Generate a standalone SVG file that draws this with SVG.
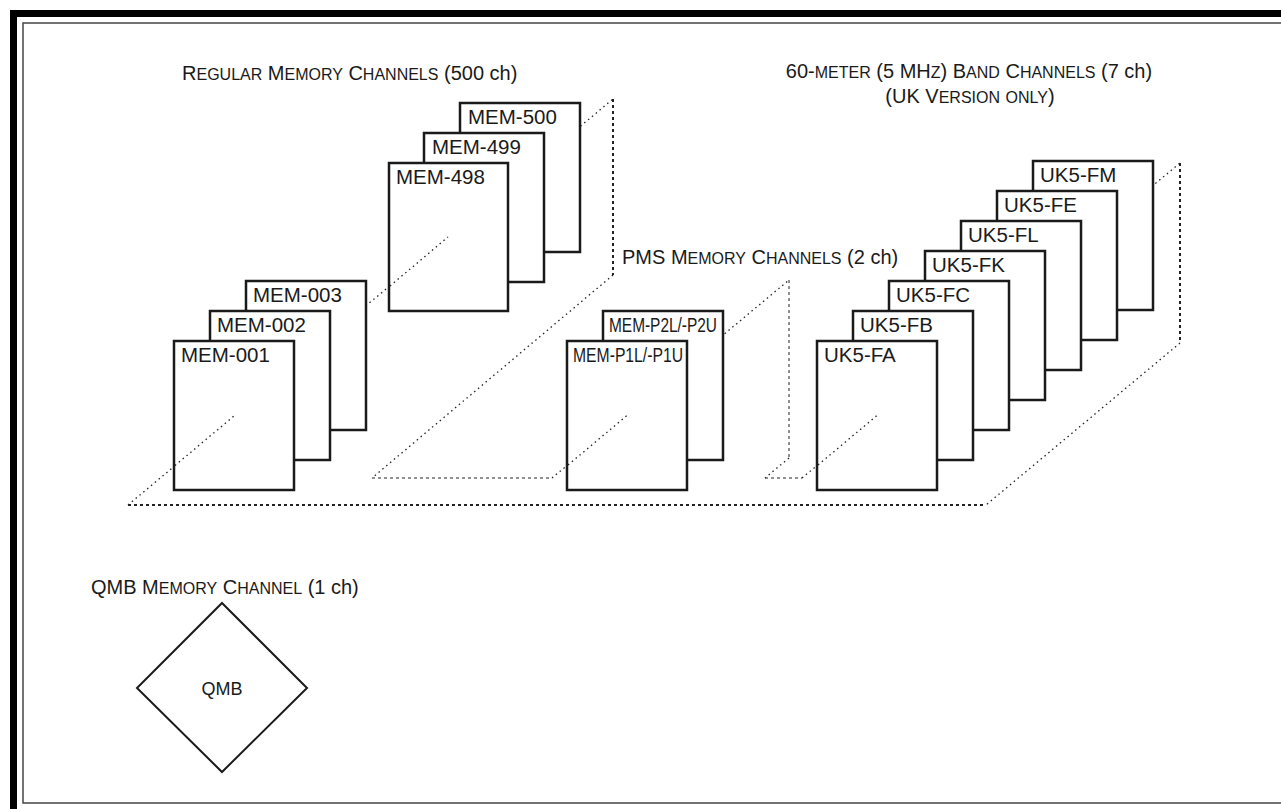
<svg xmlns="http://www.w3.org/2000/svg" width="1281" height="809" viewBox="0 0 1281 809">
<style>
  text { font-family: "Liberation Sans", Arial, sans-serif; fill: #1a1a1a; }
  .title { font-size: 20px; }
  .sc { font-size: 16px; }
  .lbl { font-size: 20.5px; }
  .card { fill: #fff; stroke: #1a1a1a; stroke-width: 2.5; }
  .dot { fill: none; stroke: #222; stroke-width: 1.3; stroke-dasharray: 1.5 3.5; }
  .thick { fill: none; stroke: #222; stroke-width: 2; stroke-dasharray: 3 3; }
  .thin { fill: none; stroke: #222; stroke-width: 1; stroke-dasharray: 3 3; }
</style>
<rect width="1281" height="809" fill="#fff"/>
<g id="frame">
  <rect x="13.5" y="13.5" width="1300" height="830" fill="none" stroke="#000" stroke-width="7"/>
  <rect x="23" y="23" width="1290" height="780" fill="none" stroke="#444" stroke-width="1.5"/>
</g>
<g id="titles">
  <text class="title" x="182" y="80">R<tspan class="sc">EGULAR</tspan> M<tspan class="sc">EMORY</tspan> C<tspan class="sc">HANNELS</tspan> (500 ch)</text>
  <text class="title" x="969" y="78" text-anchor="middle">60-<tspan class="sc">METER</tspan> (5 MH<tspan class="sc">Z</tspan>) B<tspan class="sc">AND</tspan> C<tspan class="sc">HANNELS</tspan> (7 ch)</text>
  <text class="title" x="970" y="103" text-anchor="middle">(UK V<tspan class="sc">ERSION</tspan> <tspan class="sc">ONLY</tspan>)</text>
  <text class="title" x="622" y="264">PMS M<tspan class="sc">EMORY</tspan> C<tspan class="sc">HANNELS</tspan> (2 ch)</text>
  <text class="title" x="91" y="594">QMB M<tspan class="sc">EMORY</tspan> C<tspan class="sc">HANNEL</tspan> (1 ch)</text>
</g>
<g id="connectors">
  <line class="thick" x1="128" y1="505" x2="986" y2="505"/>
  <line class="dot" x1="128" y1="505" x2="613" y2="99"/>
  <line class="thick" x1="613" y1="99" x2="613" y2="275"/>
  <line class="dot" x1="613" y1="275" x2="372" y2="478"/>
  <line class="thin" x1="372" y1="478" x2="552" y2="478"/>
  <line class="dot" x1="552" y1="478" x2="789" y2="280"/>
  <line class="thin" x1="789" y1="280" x2="789" y2="458"/>
  <line class="dot" x1="789" y1="458" x2="765" y2="478"/>
  <line class="thin" x1="765" y1="478" x2="802" y2="478"/>
  <line class="dot" x1="802" y1="478" x2="1180" y2="163"/>
  <line class="thick" x1="1180" y1="163" x2="1180" y2="343"/>
  <line class="dot" x1="1180" y1="343" x2="986" y2="505"/>
</g>
<g id="mem-500"><rect class="card" x="460" y="103" width="120" height="149"/><text class="lbl" x="468" y="124">MEM-500</text></g>
<g id="mem-499"><rect class="card" x="424" y="133" width="120" height="149"/><text class="lbl" x="432" y="154">MEM-499</text></g>
<g id="mem-498"><rect class="card" x="389" y="163" width="119" height="148"/><text class="lbl" x="396" y="184">MEM-498</text></g>
<g id="mem-003"><rect class="card" x="246" y="281" width="120" height="149"/><text class="lbl" x="253" y="302">MEM-003</text></g>
<g id="mem-002"><rect class="card" x="210" y="311" width="120" height="149"/><text class="lbl" x="217" y="332">MEM-002</text></g>
<g id="mem-001"><rect class="card" x="174" y="341" width="120" height="149"/><text class="lbl" x="181" y="362">MEM-001</text></g>
<g id="mem-p2"><rect class="card" x="603" y="311" width="120" height="149"/><text class="lbl" x="609" y="332" textLength="108" lengthAdjust="spacingAndGlyphs">MEM-P2L/-P2U</text></g>
<g id="mem-p1"><rect class="card" x="567" y="341" width="120" height="149"/><text class="lbl" x="573" y="362" textLength="110" lengthAdjust="spacingAndGlyphs">MEM-P1L/-P1U</text></g>
<g id="uk5-fm"><rect class="card" x="1033" y="161" width="120" height="149"/><text class="lbl" x="1040" y="182">UK5-FM</text></g>
<g id="uk5-fe"><rect class="card" x="997" y="191" width="120" height="149"/><text class="lbl" x="1004" y="212">UK5-FE</text></g>
<g id="uk5-fl"><rect class="card" x="961" y="221" width="120" height="149"/><text class="lbl" x="968" y="242">UK5-FL</text></g>
<g id="uk5-fk"><rect class="card" x="925" y="251" width="120" height="149"/><text class="lbl" x="932" y="272">UK5-FK</text></g>
<g id="uk5-fc"><rect class="card" x="889" y="281" width="120" height="149"/><text class="lbl" x="896" y="302">UK5-FC</text></g>
<g id="uk5-fb"><rect class="card" x="853" y="311" width="120" height="149"/><text class="lbl" x="860" y="332">UK5-FB</text></g>
<g id="uk5-fa"><rect class="card" x="817" y="341" width="120" height="149"/><text class="lbl" x="824" y="362">UK5-FA</text></g>
<g id="connectors-through">
  <line class="dot" x1="175" y1="465.5" x2="234" y2="416"/>
  <line class="dot" x1="390" y1="286" x2="448" y2="237"/>
  <line class="dot" x1="568" y1="465" x2="627" y2="415.5"/>
  <line class="dot" x1="818" y1="465" x2="877" y2="415.5"/>
</g>
<g id="qmb">
  <polygon points="222,603 307,688 222,772 137,688" fill="#fff" stroke="#1a1a1a" stroke-width="2"/>
  <text x="222" y="695" text-anchor="middle" style="font-size:18px">QMB</text>
</g>
</svg>
